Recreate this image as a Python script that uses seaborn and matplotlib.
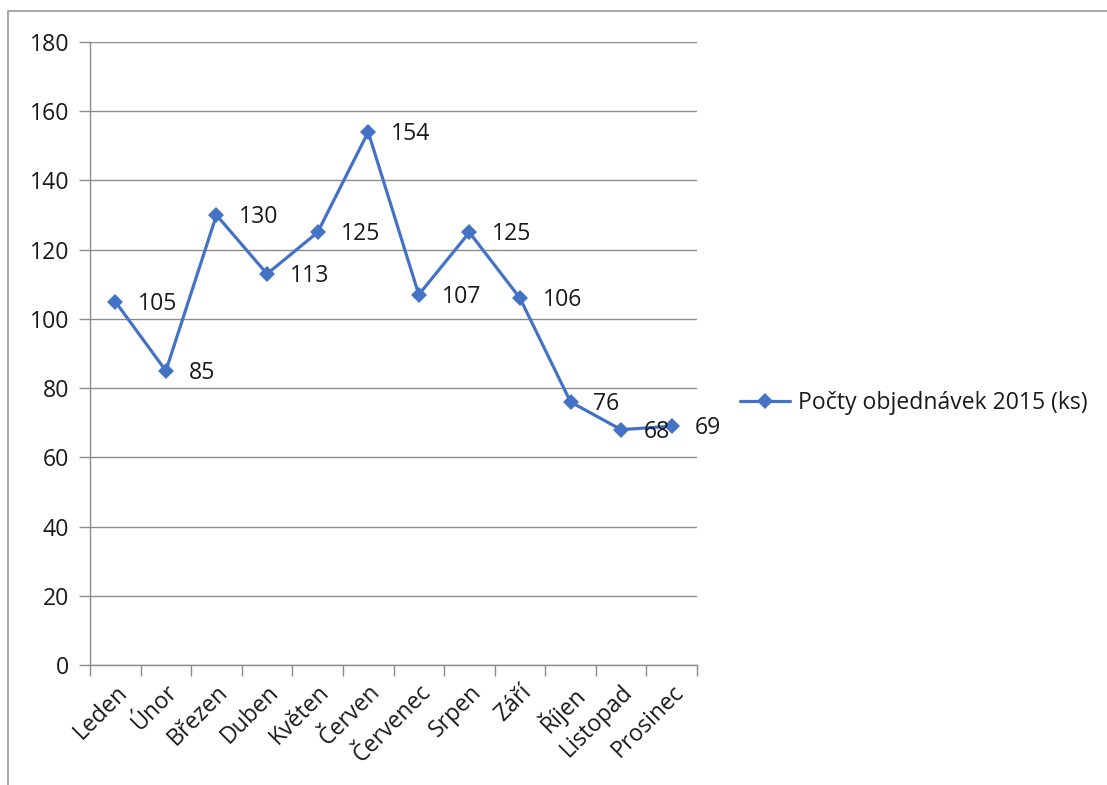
import matplotlib
matplotlib.use("Agg")
import matplotlib.pyplot as plt
from matplotlib.patches import Rectangle
import seaborn as sns
import pandas as pd

months = ["Leden", "Únor", "Březen", "Duben", "Květen", "Červen",
          "Červenec", "Srpen", "Září", "Říjen", "Listopad", "Prosinec"]
orders = [105, 85, 130, 113, 125, 154, 107, 125, 106, 76, 68, 69]
series_name = "Počty objednávek 2015 (ks)"
y_ticks = [0, 20, 40, 60, 80, 100, 120, 140, 160, 180]

sns.set_theme(style="white")
plt.rcParams["font.family"] = ["Open Sans", "DejaVu Sans"]

W, H = 1107, 785
FS = 16.6
fig = plt.figure(figsize=(W / 100, H / 100), dpi=100)
fig.patch.set_facecolor("white")

# chart frame (open on the right and bottom edges)
fig.add_artist(Rectangle((8 / W, -0.05), 1.1, 1 - 11 / H + 0.05,
                         transform=fig.transFigure, fill=False,
                         edgecolor="#9a9a9a", linewidth=1.2))

ax = fig.add_axes([90 / W, 1 - 665 / H, (697 - 90) / W, (665 - 42) / H])

df = pd.DataFrame({"month": months, "count": orders, "series": series_name})
blue = "#4472C4"
sns.lineplot(data=df, x="month", y="count", hue="series", palette=[blue],
             sort=False, marker="D", markersize=8.5, markeredgewidth=0,
             linewidth=2.3, ax=ax)

ax.set_xlim(-0.5, len(months) - 0.5)
ax.set_ylim(0, 180)
ax.set_yticks(y_ticks)
ax.set_yticklabels([str(t) for t in y_ticks], fontsize=FS, color="#1a1a1a")
ax.yaxis.grid(True, color="#8c8c8c", linewidth=1)
ax.xaxis.grid(False)
ax.set_axisbelow(True)

ax.set_xticks(range(len(months)))
ax.set_xticklabels(months, rotation=45, ha="right", rotation_mode="anchor",
                   fontsize=FS, color="#1a1a1a")
# category boundary ticks
ax.set_xticks([i - 0.5 for i in range(len(months) + 1)], minor=True)
ax.tick_params(axis="x", which="major", length=0, pad=11)
ax.tick_params(axis="x", which="minor", length=8, color="#8c8c8c", width=1,
               direction="out", bottom=True)
ax.tick_params(axis="y", length=8, color="#8c8c8c", width=1, direction="out",
               left=True, pad=7)

for side in ["top", "right"]:
    ax.spines[side].set_visible(False)
for side in ["left", "bottom"]:
    ax.spines[side].set_color("#8c8c8c")
    ax.spines[side].set_linewidth(1)

ax.set_xlabel("")
ax.set_ylabel("")

# value labels to the right of each point
for i, v in enumerate(orders):
    ax.annotate(str(v), (i, v), xytext=(16.5, -1.5), textcoords="offset points",
                ha="left", va="center", fontsize=FS, color="#1a1a1a")

leg = ax.legend(loc="center left", bbox_to_anchor=(1.055, 0.42), frameon=False,
                fontsize=FS, handlelength=2.2, handletextpad=0.35,
                borderaxespad=0)
for t in leg.get_texts():
    t.set_color("#1a1a1a")

fig.savefig("out.png", dpi=100, facecolor="white")
